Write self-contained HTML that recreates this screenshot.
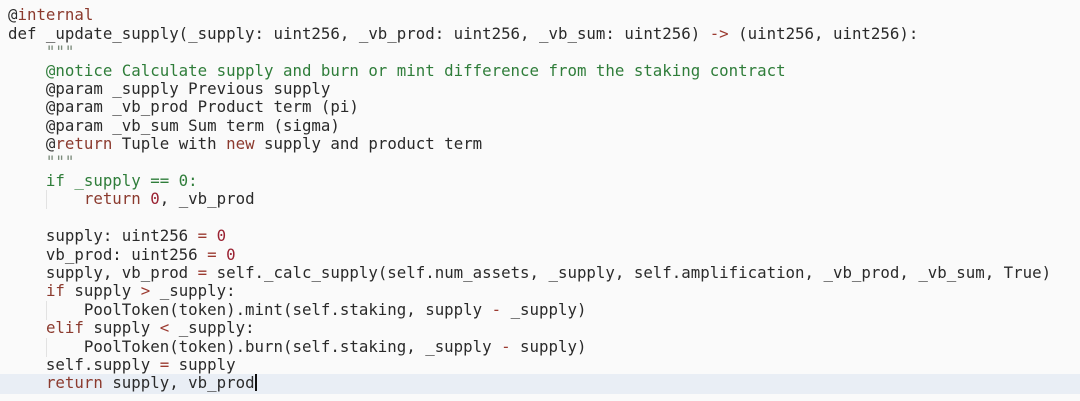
<!DOCTYPE html>
<html><head><meta charset="utf-8"><style>
html,body{margin:0;padding:0;width:1080px;height:401px;overflow:hidden;background:#fafafa}
.c{position:relative;width:1080px;height:401px}
.l{position:absolute;left:8px;font-family:"DejaVu Sans Mono","Liberation Mono",monospace;font-size:15.75px;line-height:18px;color:#2a2a2a;white-space:pre}
.k{color:#8b3a2e}.o{color:#9b3a30}.n{color:#9a2232}.g{color:#2f7d3a}.q{color:#7a8a7a}
.hl{position:absolute;left:0;top:374px;width:1080px;height:20px;background:#e9eef5}
.cur{display:inline-block;width:2px;height:17px;background:#111;vertical-align:-3px}
.gd{position:absolute;left:46px;width:1px;background:#e2e2e2}
</style></head><body><div class="c">
<div class="hl"></div>
<div class="gd" style="top:190px;height:19px"></div>
<div class="gd" style="top:301px;height:19px"></div>
<div class="gd" style="top:338px;height:19px"></div>
<div class="l" style="top:6px">@<span class="k">internal</span></div>
<div class="l" style="top:25px">def _update_supply(_supply: uint256, _vb_prod: uint256, _vb_sum: uint256) <span class="o">-&gt;</span> (uint256, uint256):</div>
<div class="l q" style="top:43px">    """</div>
<div class="l g" style="top:62px">    @notice Calculate supply and burn or mint difference from the staking contract</div>
<div class="l" style="top:80px">    @param _supply Previous supply</div>
<div class="l" style="top:98px">    @param _vb_prod Product term (pi)</div>
<div class="l" style="top:117px">    @param _vb_sum Sum term (sigma)</div>
<div class="l" style="top:135px">    @<span class="k">return</span> Tuple with <span class="k">new</span> supply and product term</div>
<div class="l q" style="top:153px">    """</div>
<div class="l g" style="top:172px">    if _supply == 0:</div>
<div class="l" style="top:190px">        <span class="k">return</span> <span class="n">0</span>, _vb_prod</div>
<div class="l" style="top:227px">    supply: uint256 <span class="o">=</span> <span class="n">0</span></div>
<div class="l" style="top:246px">    vb_prod: uint256 <span class="o">=</span> <span class="n">0</span></div>
<div class="l" style="top:264px">    supply, vb_prod <span class="o">=</span> self._calc_supply(self.num_assets, _supply, self.amplification, _vb_prod, _vb_sum, True)</div>
<div class="l" style="top:282px">    <span class="k">if</span> supply <span class="o">&gt;</span> _supply:</div>
<div class="l" style="top:301px">        PoolToken(token).mint(self.staking, supply <span class="o">-</span> _supply)</div>
<div class="l" style="top:319px">    <span class="k">elif</span> supply <span class="o">&lt;</span> _supply:</div>
<div class="l" style="top:338px">        PoolToken(token).burn(self.staking, _supply <span class="o">-</span> supply)</div>
<div class="l" style="top:356px">    self.supply <span class="o">=</span> supply</div>
<div class="l" style="top:374px">    <span class="k">return</span> supply, vb_prod<span class="cur"></span></div>
</div></body></html>
